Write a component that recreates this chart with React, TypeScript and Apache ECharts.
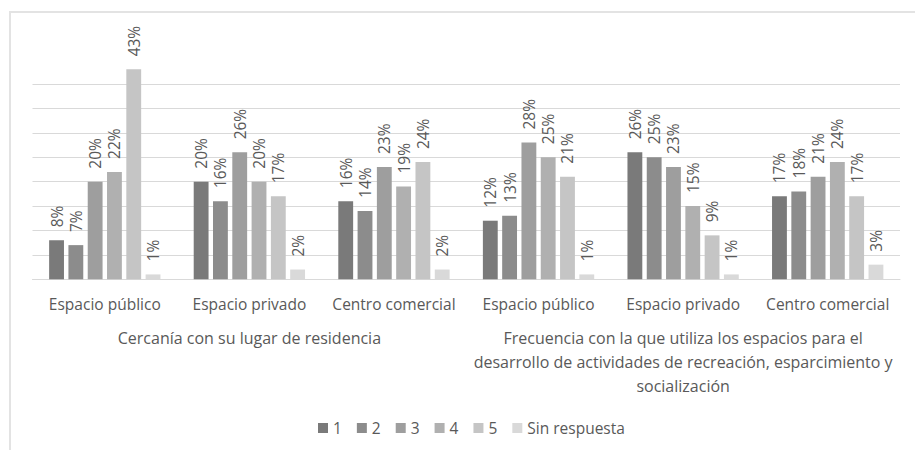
import React, { useEffect, useRef } from "react";
import * as echarts from "echarts";

const categories = [
  "Espacio público",
  "Espacio privado",
  "Centro comercial",
  "Espacio público",
  "Espacio privado",
  "Centro comercial",
];
const groups = [
  "Cercanía con su lugar de residencia",
  "Frecuencia con la que utiliza los espacios para el\ndesarrollo de actividades de recreación, esparcimiento y\nsocialización",
];
const seriesNames = ["1", "2", "3", "4", "5", "Sin respuesta"];
const s1 = [8, 20, 16, 12, 26, 17];
const s2 = [7, 16, 14, 13, 25, 18];
const s3 = [20, 26, 23, 28, 23, 21];
const s4 = [22, 20, 19, 25, 15, 24];
const s5 = [43, 17, 24, 21, 9, 17];
const s6 = [1, 2, 2, 1, 1, 3];
const seriesValues = [s1, s2, s3, s4, s5, s6];
const colors = ["#7a7a7a", "#8c8c8c", "#9e9e9e", "#b0b0b0", "#c5c5c5", "#d9d9d9"];

const FONT = "Open Sans";
const TEXT = "#595959";

export default function App() {
  const ref = useRef<HTMLDivElement>(null);
  useEffect(() => {
    document.body.style.margin = "0";
    if (!ref.current) return;
    const chart = echarts.init(ref.current, undefined, { renderer: "svg" });
    chart.setOption({
      animation: false,
      textStyle: { fontFamily: FONT },
      color: colors,
      graphic: [
        {
          type: "rect",
          shape: { x: 10, y: 12, width: 1200, height: 1000 },
          style: { fill: "none", stroke: "#e3e3e3", lineWidth: 2 },
          silent: true,
        },
      ],
      legend: {
        data: seriesNames,
        left: 313,
        top: 415,
        icon: "rect",
        itemWidth: 10,
        itemHeight: 10,
        itemGap: 15,
        textStyle: { color: TEXT, fontSize: 15.5, fontFamily: FONT },
      },
      grid: { left: 32.5, right: 15, top: 84, bottom: 170.7, containLabel: false },
      xAxis: [
        {
          type: "category",
          data: categories,
          axisLine: { show: true, lineStyle: { color: "#d9d9d9" } },
          axisTick: { show: false },
          axisLabel: { color: TEXT, fontSize: 15.5, fontFamily: FONT, margin: 17, interval: 0 },
        },
        {
          type: "category",
          data: groups,
          position: "bottom",
          offset: 40,
          axisLine: { show: false },
          axisTick: { show: false },
          axisLabel: {
            color: TEXT,
            fontSize: 16,
            fontFamily: FONT,
            margin: 7,
            lineHeight: 24,
            interval: 0,
            align: "center",
          },
        },
      ],
      yAxis: {
        type: "value",
        min: 0,
        max: 40,
        interval: 5,
        axisLabel: { show: false },
        axisLine: { show: false },
        axisTick: { show: false },
        splitLine: { lineStyle: { color: "#d9d9d9" } },
      },
      series: seriesNames.map((name, i) => ({
        name,
        type: "bar",
        xAxisIndex: 0,
        data: seriesValues[i],
        barGap: "30%",
        barCategoryGap: "23%",
        clip: false,
        itemStyle: { color: colors[i] },
        label: {
          show: true,
          position: "top",
          rotate: 90,
          align: "left",
          verticalAlign: "middle",
          distance: 13,
          formatter: "{c}%",
          color: TEXT,
          fontSize: 15.5,
          fontFamily: FONT,
        },
      })),
    });
    return () => chart.dispose();
  }, []);
  return <div ref={ref} style={{ width: 915, height: 450 }} />;
}
